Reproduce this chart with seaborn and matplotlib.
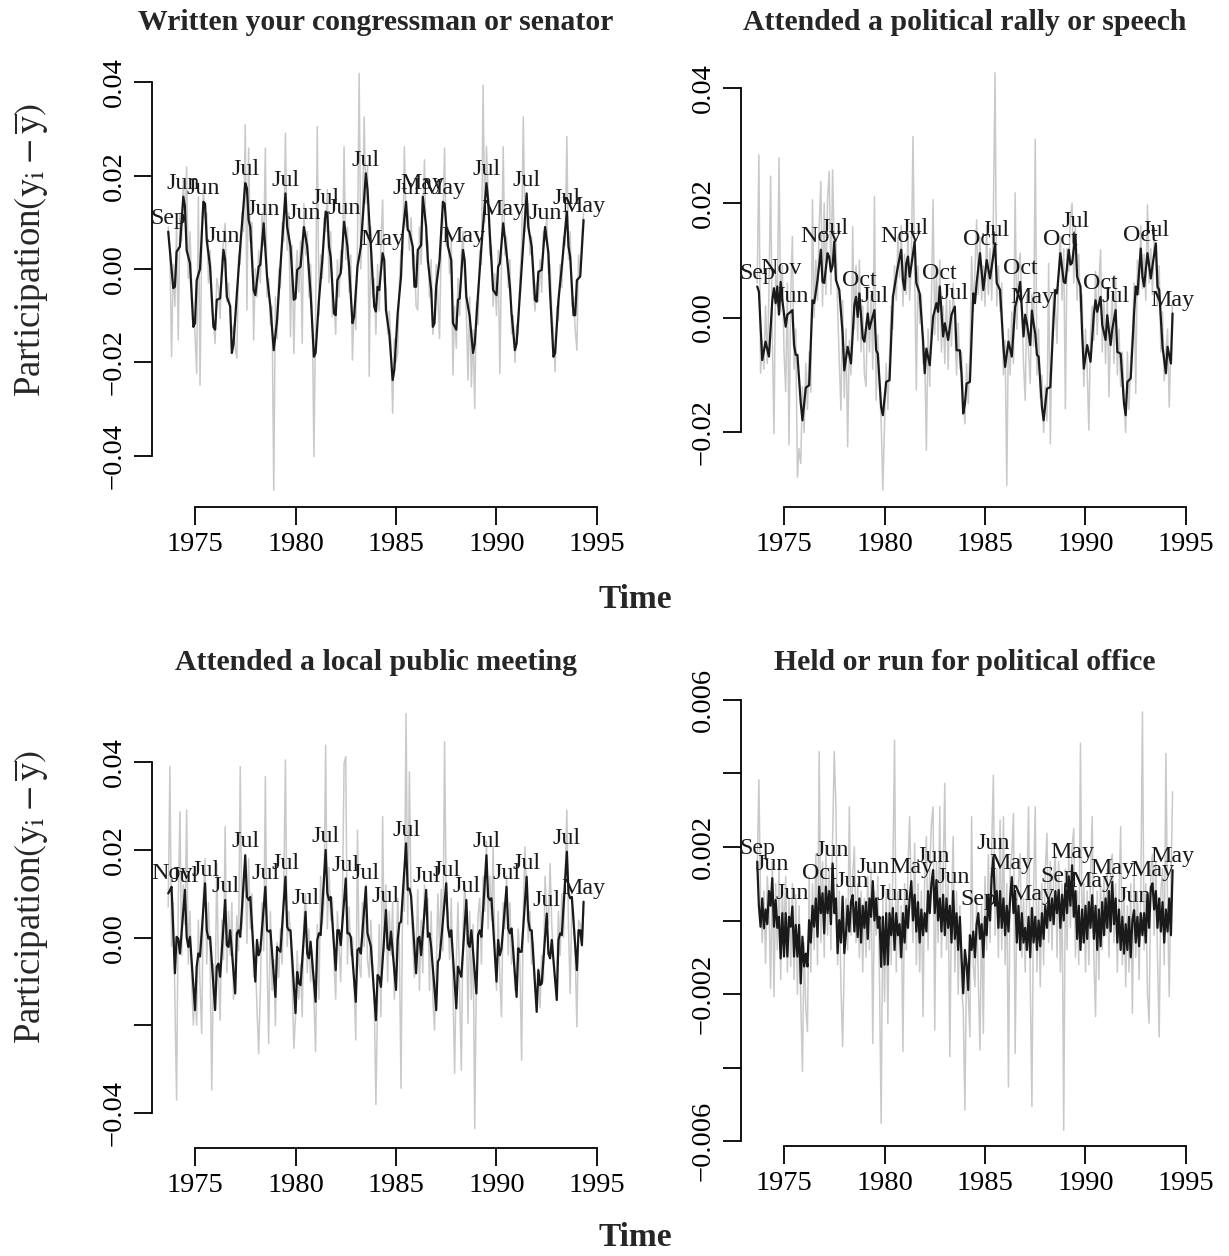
import numpy as np
import pandas as pd
import matplotlib
matplotlib.use("Agg")
import matplotlib.pyplot as plt
import seaborn as sns

# ---------------- data ----------------
START_YEAR, START_MONTH = 1973, 9          # first observation: Sep 1973 (monthly series)
MONTHS = ['Jan', 'Feb', 'Mar', 'Apr', 'May', 'Jun', 'Jul', 'Aug', 'Sep', 'Oct', 'Nov', 'Dec']
LABEL_YEARS = list(range(1973, 1995))
X_TICKS = [1975, 1980, 1985, 1990, 1995]

TITLES = ["Written your congressman or senator", "Attended a political rally or speech",
          "Attended a local public meeting", "Held or run for political office"]

# values in thousandths (panels 1-3) / ten-thousandths (panel 4)
SCALES = [1e-3, 1e-3, 1e-3, 1e-4]

# raw monthly series (grey), month 0 = Sep 1973
TL_GRAY = [9, 4, -18.8, 1, -8, 9, -15.2, 12, 6, 19, 10, 21.9,
           -2, 8, -4, -9, -14, -22.4, 15.5, -24.9, 6, 17, 11, 12,
           -3, 4, -9, -11, -16, -2, -4, -10.6, 2, 6, 9.8, -7,
           -3, -10, -14, -12, -17, -19.1, 3, 1, 12, 8, 30.9, -8.8,
           25.9, 6, 10, -15.2, 0, -6, 4, -3, 12, 5, 25.9, -6,
           -2, -12, -8, -47.4, -6, -15, 0, -4, 10, 6, 29.1, 4,
           12, -14.5, 5, -18.1, -2, 4, -5, 6, -15.9, 14, 3, 8,
           -6, 1, -9, -40.2, -10, 30.5, -10, 3, -2, 11, 8, 17,
           -3, 8, -10.2, -7, -14, 2, -6, 4, 0, 26.2, 2, 9,
           -5, 3, -19.5, -8, -13, 5, 41.9, 0, 12, 32.6, 14, 22,
           -23, 9, -6, -2, -14, 1, -9, 5, 14.8, -3, -4, -14,
           -9, -16, -30.9, -15, -20, -18, -3, 4, 3, 26.2, 9, 12,
           4, 11, 0, 3, -8, -8.8, 9, 1, 11, 23.4, 5, 6,
           -6, 2, -14, -9.5, 1, -6, -14.9, 6, 10, 25.9, 5, 9,
           -1, 6, -22.7, -8, -17, -2, -10, 3, 8, -2, -9, -23.8,
           -6, -25.2, -13, -29.9, -7, -12, 4, 1, 39.4, 10, 26.2, 17,
           3, 5, -8, -1, -10, 4, -22.4, 2, 26.2, 3, 7, -4,
           2, -13.8, -10, -20, -12, -14, -2, 5, 32.6, 8, 12, 14,
           3, 7, -5, -9, -3, -7, 2, -5, 8, 6, 11, -1,
           1, -9, -13.8, -22, -8, -11, 1, -4, 7, 5, 28.4, 2,
           8, -8, -6, -13, -17.4, 3, -1, 7, 12]

TR_GRAY = [6, 28.3, -9.7, -4, -9, 2, -8, 4, 24.6, -3, -20.2, 8,
           2, 27.8, 1, 9, -6, -12.9, 6, -22.2, 4, 14.1, -9, -2,
           -27.8, -22.8, -25.4, -12, -20, -8, -16, -6, -13, 20.5, 0, 10,
           3, 16, 23.7, 2, 19.9, 4, 20.8, 25.4, 4, 25.7, 12, 14,
           2, -7.7, -16.1, 3, -14, -2, -22.5, -4, -10, 15.8, -2, 9,
           -4, 10, -6, 2, -10, -12, 5, -6, 4, -9, 21.1, -14.4,
           -3, -12, -18, -30, -19, -8, -16, -7, 2, -2, 9, 3,
           14, 7, 16, 2, 11, 4, 15, 3, 9, 31.5, 8, -12.6,
           9, -1, 4, -8, -6, -23.1, -2, -12, 3, 20.5, -3, 8,
           -4, 10, -6, 2, -8, 4, -9, 3, -5, 6, -2, -10,
           -1, -9, -6, -14, -18.5, -8, -15, -6, 10.6, 1, 8, 17,
           4, 14, 3, 9, 2, 16, 4, 12, 3, 18, 42.6, 2,
           9, 1, 6, -10, -4, -29.2, -2, -10, 1, -8, 21.7, -2,
           8, 11.2, 2, -8, -14.4, 4, -6, -11.5, 4, -5, 31, -10,
           -2, -14, -10, -20, -12, -18, 9.4, -22, -3, 5, 2, -4.5,
           9, 14, 3, 12, -15.9, 12, 8, 17.6, 19.9, 6, 16, 3,
           11, 1, 4, -12, -2, -9, -19.6, -3, 2, -4, 8, -3,
           6, 11.8, -6, 3, -8, 5, -13.8, -2, 4, -8, 7, -10,
           -2, -12, -6, -14, -20, -6, -16, -7, -3, 6, -13.2, 10,
           4, 16, 5, 11, 3, 19.6, 6, 12, 4, 14, 10, 2,
           9, -6, 1, -11, -6, -2, -15.6, -5, 3]

BL_GRAY = [7, 39, -2, 8, -14, -37, 8, 28.7, -4, 12, 3, 29.1,
           -6, 6, -10, -19.9, -12, -19.9, 4, -11, -21.8, 10, 18, -6,
           8, -4, -34.7, -6, -14, 16.9, -8, -18.8, 4, -5, 25.3, -8,
           6, -4, 8, -14, -6, 5, -3, 39, 2, 10, 16, -1.3,
           18, 2, 10, -9, -4, -16, -26.4, -12, 8, -3, 36.7, -5,
           -24.1, 6, -12, -5, -20, -1, -9, 2, -6, 12, 40.5, -2,
           6, 1, -10, -25.2, -18, -3, -14, -6, -18, 4, 10, -8,
           2, -10, -3, -14, -26, 3, -14, 14, 3, 8, 43.9, 2,
           16, 4, 9, -6, -14, 6, -2, -10, 8, 39.7, 41.3, -6,
           7, -4, 0, -12, -23.3, 24.5, -6, -9, 8, -2, 12, -5,
           -9, 4, -6, -14, -38, -14, 3, -18, 27.6, -3, 12, -10,
           6, -4, 8, -14, -6, 9, -2, -34.3, 12, 6, 51.1, 3,
           37.8, 8, -1, -9, -3, 11, -12, 4, -8, 12, 5, 9,
           -12, 6, -14, -21, -8, 10, -2, 11, -3, 44.7, 8, 6,
           -5, 9, -12, -30.9, -6, 8, -12, -30.2, 2, 12, 6, -19.5,
           6, -14, 3, -43.5, -8, 5, 9, -6, 14, 6, 22, 2,
           14, 4, 20.7, -2, -12, 6, -9, -18, 8, 2, 14, -4,
           8, -6, -2, -12, -8, 2, -6, -27.9, 6, 20.7, 10, -1,
           6, -6, -1, -12, -14, -7, -16, -4, -10, 14, 6, 3,
           16.9, 3, -5, -10, -8, 6, -4, 10, 0, 14, 29.1, 2,
           -12.7, 8, 6, -4, -20.3, 4, 3, -2, 6]

BR_GRAY = [14, 38.2, 5, -6, 8, -11.6, 12, 4, -18.4, 16, -20.7, 10,
           -8, 14, -16, 8, -4, 12, -14, 6, -12.5, 10, -16, 7,
           -20, 4, -22, -41, -6, -24, -30.2, 12, -14, 10, -8, 18,
           -12, 45.9, -6, 16, -10, 20, -4, 14, -8, 22, 45.9, 30.9,
           -12, 8, -18, -34.3, -10, 6, -8, 30.9, -4, 12, 20, -6,
           10, -10, 8, -14, 6, -10, 12, -8, 14, -33.4, 8, -4,
           12, -16, -55.1, 6, -22, 8, -28, 10, -12, 14, 49, -14,
           8, -10, 4, -35.6, 10, -8, 14, 28.2, 6, -6, 21, -12,
           10, -14, 8, -26.1, 12, 22.8, -8, 14, 26.4, 30.9, -29.8, 16,
           -6, 30.9, -10, 12, 37.3, -8, 10, -37, 4, 22.8, -14, 8,
           -20, 4, -18, -24, -51.5, -10, -20, -31.6, 28.2, -12, -18, 6,
           -16, -35.2, 4, -30.7, 12, -8, 18, -6, 20, 39.5, -4, 14,
           -10, 27.3, -8, 28.2, -12, 10, -45.2, 14, 18, 29.1, -36.1, 4,
           10, 18.2, -10, 6, -14, 8, 30.9, -16, -50.6, 8, 30.9, -14,
           6, -18, 10, -12, 14, 23.7, -6, 16, -8, 12, 18, -10,
           16, -14, 10, -57, 14, -8, 18, -2, 20, 25, -10, 8,
           -12, 48.2, -6, 10, -14, 8, -12, 12, 28.2, -10, -26.1, 8,
           -16, 10, -8, 12, -4, 14, -10, 16, 18, -6, 10, -14,
           6, 25.5, -12, 8, -18, 4, -14, 10, -25.2, 12, -10, 8,
           -16, 6, 56.7, -8, 10, -20, -27.9, 14, 18, -4, 16, -10,
           -31.6, 8, 14, -12, 45.4, 4, -20.7, 10, 35]

# smoothed series (black): (month, value) vertices
TL_BLACK = [(0, 8.0), (3, -4.1), (4, -3.8), (5, 3.7), (7, 4.8), (9, 15.5), (10, 13.4), (11, 4.0),
            (13, 1.2), (15, -12.4), (16, -11.6), (17, -2.4), (19, 0.0), (21, 14.4), (22, 14.0),
            (23, 6.2), (25, 0.5), (27, -12.4), (28, -13.0), (29, -6.6), (31, -6.3), (33, 4.1),
            (34, 1.9), (35, -5.9), (37, -8.0), (38, -18.0), (39, -16.0), (41, -5.2), (43, 4.8),
            (46, 18.4), (47, 17.3), (48, 10.5), (49, 9.0), (51, -4.5), (52, -5.6), (54, 0.5),
            (55, 0.9), (57, 9.8), (59, -1.6), (61, -8.0), (63, -17.4), (65, -10.9), (67, 0.5),
            (70, 16.2), (71, 9.0), (73, 4.8), (75, -6.6), (76, -6.3), (77, -0.2), (79, 0.5),
            (81, 9.0), (83, 4.8), (85, -5.2), (87, -18.8), (88, -18.0), (90, -6.6), (92, 1.9),
            (94, 12.3), (95, 12.0), (96, 4.8), (97, 2.6), (99, -9.5), (100, -9.9), (101, -2.4),
            (103, -0.9), (105, 10.1), (107, 4.8), (108, 0.5), (110, -11.6), (111, -10.2),
            (113, 0.5), (115, 4.8), (118, 20.5), (119, 17.0), (120, 10.5), (121, 4.8),
            (123, -8.1), (124, -9.1), (125, -3.8), (126, -4.5), (128, 3.4), (129, 1.9),
            (130, -8.8), (132, -13.8), (134, -23.8), (135, -21.6), (137, -9.5), (139, -1.6),
            (140, 7.6), (142, 14.4), (143, 8.4), (144, 8.0), (146, 4.8), (147, -3.8), (148, -3.8),
            (149, 4.1), (151, 5.1), (152, 15.5), (154, 9.0), (155, 1.9), (157, -4.5), (158, -12.4),
            (159, -11.6), (160, -3.8), (162, 1.9), (164, 14.4), (165, 14.0), (167, 4.8), (169, 1.9),
            (170, -11.6), (172, -13.0), (173, -6.6), (174, -6.3), (176, 4.1), (177, 1.9),
            (178, -5.9), (180, -10.2), (182, -18.0), (183, -16.0), (185, -5.2), (187, 4.8),
            (190, 18.4), (191, 14.8), (192, 7.6), (194, -4.5), (196, -5.6), (197, 0.5), (198, 1.2),
            (200, 9.8), (202, 3.4), (204, -3.8), (205, -9.5), (207, -17.4), (208, -16.0),
            (210, -5.2), (211, 0.5), (214, 16.2), (215, 9.0), (217, 4.8), (219, -6.6), (220, -7.0),
            (221, -0.6), (223, -0.2), (225, 9.0), (227, 3.4), (228, -5.2), (230, -18.8),
            (231, -18.0), (233, -6.6), (235, 0.5), (238, 12.3), (239, 4.8), (240, 2.6),
            (242, -9.9), (243, -9.9), (244, -2.4), (246, -1.6), (248, 10.5)]

TR_BLACK = [(0, 5.4), (1, 4.5), (3, -7.4), (5, -4.2), (7, -6.8), (9, 3.0), (10, 5.1), (11, 2.5),
            (12, 5.4), (13, 0.5), (14, 6.2), (15, 3.0), (17, -1.6), (18, 0.5), (20, 1.0), (21, 1.3),
            (22, -4.8), (23, -6.5), (24, -6.5), (26, -14.9), (27, -17.9), (29, -12.2), (31, -11.8),
            (33, 3.0), (34, 2.5), (36, 6.5), (38, 11.8), (39, 6.2), (40, 6.0), (42, 11.2),
            (43, 10.5), (44, 8.0), (45, 9.0), (46, 13.2), (47, 6.5), (49, 4.8), (51, -2.8),
            (52, -9.2), (54, -5.1), (56, -8.0), (58, 2.2), (59, 3.6), (60, 0.1), (61, 4.2),
            (63, -3.6), (64, -4.2), (66, 0.7), (67, -2.0), (68, -0.8), (70, 1.3), (71, -5.7),
            (72, -6.3), (74, -15.6), (75, -17.0), (77, -11.2), (79, -10.9), (81, 3.6), (82, 5.4),
            (84, 8.9), (86, 11.8), (87, 6.5), (88, 4.8), (89, 9.4), (90, 10.6), (91, 7.1),
            (92, 9.0), (94, 13.2), (95, 6.0), (97, 4.2), (99, -3.9), (100, -9.7), (101, -5.4),
            (103, -8.3), (105, 0.1), (107, 2.5), (108, 1.0), (109, 5.4), (111, -3.3), (112, -1.0),
            (114, -3.9), (116, 0.5), (118, 1.9), (119, -5.7), (121, -5.7), (122, -10.0),
            (123, -16.7), (124, -15.0), (125, -11.5), (127, -11.2), (129, 4.2), (130, 2.5),
            (131, 6.0), (133, 11.2), (135, 4.8), (137, 10.0), (139, 6.8), (142, 12.9), (143, 6.0),
            (145, 4.8), (147, -5.1), (148, -8.6), (150, -4.2), (152, -6.8), (154, 1.9), (155, 3.0),
            (157, 6.2), (159, -3.3), (160, 0.5), (161, -1.0), (163, -4.8), (164, 1.2), (165, -1.0),
            (166, -2.8), (167, -6.5), (168, -6.8), (170, -15.6), (171, -17.9), (173, -12.4),
            (175, -12.1), (177, 0.1), (178, 4.8), (179, 4.2), (181, 11.2), (183, 6.2), (184, 6.0),
            (186, 11.8), (187, 9.2), (188, 9.5), (190, 14.4), (191, 7.1), (193, 5.4), (194, -2.8),
            (195, -8.9), (197, -4.8), (199, -7.7), (201, 0.7), (202, 3.0), (203, 1.0), (205, 3.6),
            (206, -1.3), (208, -3.9), (209, 0.4), (211, -4.8), (212, -2.0), (214, 1.3),
            (215, -6.0), (217, -6.3), (219, -15.0), (220, -17.0), (221, -11.2), (223, -10.6),
            (225, 0.7), (226, 5.4), (227, 4.0), (229, 12.0), (230, 7.1), (231, 5.4), (233, 11.2),
            (235, 6.8), (236, 9.0), (238, 12.9), (239, 5.4), (240, 4.8), (242, -5.1), (244, -9.7),
            (245, -5.1), (247, -8.0), (248, 0.7)]

BL_BLACK = [(0, 10.1), (1, 10.8), (2, 11.6), (4, -8.1), (5, 0.2), (6, -0.2), (7, -3.6), (10, 10.9),
            (11, 0.2), (12, -2.1), (13, 0.2), (16, -16.5), (17, -6.6), (18, -3.6), (19, -4.3), (22, 12.4),
            (23, 1.7), (24, -0.2), (25, 0.2), (28, -16.5), (29, -6.6), (30, -5.9), (31, -8.9), (34, 8.6),
            (35, -1.7), (36, -2.1), (37, 1.7), (40, -12.7), (41, 1.0), (42, 1.7), (43, 0.2), (46, 18.8),
            (47, 9.3), (48, 8.6), (49, 9.3), (52, -10.0), (53, -0.5), (54, -4.0), (55, -2.8), (58, 11.6),
            (59, 1.7), (60, 1.4), (61, 1.7), (64, -13.5), (65, -2.1), (66, -2.8), (67, -3.2), (70, 13.9),
            (71, 2.5), (72, 1.7), (73, 1.7), (76, -17.2), (77, -7.8), (78, -10.4), (79, -10.8), (82, 5.9),
            (83, -3.6), (84, -4.7), (85, -0.9), (88, -14.6), (89, -0.5), (90, 1.0), (91, 0.6), (94, 20.0),
            (95, 10.1), (96, 8.6), (97, 9.3), (100, -7.4), (101, 1.7), (102, 1.7), (103, -1.7), (106, 13.5),
            (107, 1.0), (108, 1.0), (109, 0.2), (112, -14.6), (113, -2.8), (114, -2.4), (115, -3.6), (118, 11.6),
            (119, 1.0), (120, -0.5), (121, -2.0), (124, -18.8), (125, -8.5), (126, -9.0), (127, -11.2), (130, 6.3),
            (131, -2.4), (132, -2.8), (133, 1.4), (136, -11.9), (137, -0.5), (138, 3.3), (139, 3.6), (142, 21.5),
            (143, 10.9), (144, 11.2), (145, 9.5), (148, -8.1), (149, -0.2), (150, 0.2), (151, -4.0), (154, 10.9),
            (155, 0.2), (156, 1.0), (157, -2.1), (160, -16.5), (161, -5.5), (162, -4.7), (163, -0.5), (166, 12.4),
            (167, 2.5), (168, 0.2), (169, 1.7), (172, -16.1), (173, -6.6), (174, -7.8), (175, -8.9), (178, 8.6),
            (179, -1.3), (180, -2.1), (181, 1.7), (184, -12.7), (185, 0.6), (186, 1.7), (187, 0.2), (190, 18.8),
            (191, 9.3), (192, 8.6), (193, 9.0), (196, -10.0), (197, -0.5), (198, -4.0), (199, -2.4), (202, 11.6),
            (203, 2.1), (204, 1.0), (205, 2.1), (208, -13.5), (209, -2.4), (210, -3.2), (211, -3.2), (214, 13.9),
            (215, 4.0), (216, 1.7), (217, 1.7), (220, -16.9), (221, -7.4), (222, -10.8), (223, -10.5), (226, 5.5),
            (227, -3.6), (228, -4.7), (229, -0.5), (232, -14.2), (233, -0.5), (234, 1.0), (235, 0.6), (238, 19.6),
            (239, 10.1), (240, 9.0), (241, 9.3), (244, -7.4), (245, 1.7), (246, 1.7), (247, -1.7), (248, 8.2)]

# monthly smoothed values for the last panel (month 0 = Sep 1973)
BR_BLACK_MONTHLY = [16, 4, -1.7, 6, -2.1, 3, -1, 8, 4, 11.5, -1.7, 5.6,
                    -2, 1, -10.3, 2, -9.8, 2, -9.8, 1, -1.7, 3.8, -9.8, -1.2,
                    -9.8, -1.2, -17.1, -4.4, -12.5, -9, -12.5, 0.1, -6, 4, -1.7, 6,
                    -4.4, 9.2, 2, 7.4, -3.5, 9.2, 2, 8, -1, 15.5, 2, 6,
                    -8.9, 0.1, -6, 6.5, -8.9, -3.5, 4, -3, 5, 6.9, -3, 5,
                    -4.5, 6, -6, 4, -2, 5, -5, 6, 1, 10.7, 0, 6,
                    -2, 1, -12.6, 1, -12, 2, -12, 2, -4, 3.4, -8, 2,
                    -4, -1, -10, 2, -6, 4, -2, 6, 10.7, 0, 7, -3,
                    5, -6, 3, -4, 2, -3, 8, 2, 10, 13.7, 2, 11,
                    0, 6, -3, 7, -4, 6, -2, 4, -6, 8, -5, 2,
                    -8, 1, -10, -19.8, -8, -12, -18.9, -4, -8, -3, -10, -1,
                    2, -5, -1, -10, 1, -4, 7, 0, 12, 17.2, 4, 8,
                    -2, 8, -2, 6, -4, 4, -3, 6, 11.8, 2, 8, -6,
                    4, -8, 2, -6, -2, -8, 1, -10, 3.4, -6, 1, -8,
                    0, -7, 2, -5, 4, -2, 6, 0, 6, -1, 8, 2,
                    8.3, -2, 7, 0, 10, 2, 12, 4, 15, 1, 8, -5,
                    4, -8, 3, -6, 4, -5, 5, -2, 6.9, -5, 4, -8,
                    3, -7, 5, -4, 6, -2, 8, -3, 10.5, -1, 6, -6,
                    3, -8, 1, -9, -1, -8, 1, -10, 0, 2.8, -6, 1,
                    -7, 2, -4, 2, -6, 7, -2, 9, 10.1, 3, 8, -2,
                    6, -3, 5, -6, 3, -3, 6, -4, 13.7]
BR_BLACK = list(enumerate(BR_BLACK_MONTHLY))

# month of the yearly maximum, one label per calendar year 1973..1994
TL_LABELS = ['Sep', 'Jun', 'Jun', 'Jun', 'Jul', 'Jun', 'Jul', 'Jun', 'Jul', 'Jun', 'Jul',
             'May', 'Jul', 'May', 'May', 'May', 'Jul', 'May', 'Jul', 'Jun', 'Jul', 'May']
TR_LABELS = ['Sep', 'Nov', 'Jun', 'Nov', 'Jul', 'Oct', 'Jul', 'Nov', 'Jul', 'Oct', 'Jul',
             'Oct', 'Jul', 'Oct', 'May', 'Oct', 'Jul', 'Oct', 'Jul', 'Oct', 'Jul', 'May']
BL_LABELS = ['Nov', 'Jul', 'Jul', 'Jul', 'Jul', 'Jul', 'Jul', 'Jul', 'Jul', 'Jul', 'Jul',
             'Jul', 'Jul', 'Jul', 'Jul', 'Jul', 'Jul', 'Jul', 'Jul', 'Jul', 'Jul', 'May']
BR_LABELS = ['Sep', 'Jun', 'Jun', 'Oct', 'Jun', 'Jun', 'Jun', 'Jun', 'May', 'Jun', 'Jun',
             'Sep', 'Jun', 'May', 'May', 'Sep', 'May', 'May', 'May', 'Jun', 'May', 'May']

Y_TICKS = [[-0.04, -0.02, 0.0, 0.02, 0.04],
           [-0.02, 0.0, 0.02, 0.04],
           [-0.04, -0.02, 0.0, 0.02, 0.04],
           [-0.006, -0.004, -0.002, 0.0, 0.002, 0.004, 0.006]]
Y_TICKLABELS = [["\u22120.04", "\u22120.02", "0.00", "0.02", "0.04"],
                ["\u22120.02", "0.00", "0.02", "0.04"],
                ["\u22120.04", "", "0.00", "0.02", "0.04"],
                ["\u22120.006", "", "\u22120.002", "", "0.002", "", "0.006"]]

# ---------------- layout / style ----------------
W, H = 1229, 1256
RECTS = [(152, 50, 600, 507), (741, 50, 1189, 507), (152, 690, 600, 1148), (741, 690, 1189, 1146)]
YLIMS = [(-0.0510, 0.04693), (-0.03298, 0.04656), (-0.04793, 0.05646), (-0.006128, 0.006264)]
XLIM = (1972.86, 1995.15)
TITLE_Y = [22, 22, 662, 662]

sns.set_theme(style="ticks")
plt.rcParams['font.family'] = ['Liberation Serif', 'DejaVu Serif']
plt.rcParams['mathtext.fontset'] = 'stix'

GRAY_C = '#c9c9c9'
BLACK_C = '#1a1a1a'


def month_to_time(m):
    return START_YEAR + (START_MONTH - 1 + np.asarray(m, dtype=float)) / 12.0


fig = plt.figure(figsize=(W / 100, H / 100), dpi=100)

grays = [TL_GRAY, TR_GRAY, BL_GRAY, BR_GRAY]
blacks = [TL_BLACK, TR_BLACK, BL_BLACK, BR_BLACK]
labels = [TL_LABELS, TR_LABELS, BL_LABELS, BR_LABELS]

for i in range(4):
    l, t, r, b = RECTS[i]
    ax = fig.add_axes([l / W, 1 - b / H, (r - l) / W, (b - t) / H])
    sc = SCALES[i]

    g = np.asarray(grays[i], dtype=float)
    df_g = pd.DataFrame({'time': month_to_time(np.arange(len(g))), 'value': g * sc})
    sns.lineplot(data=df_g, x='time', y='value', ax=ax, color=GRAY_C, lw=1.1,
                 estimator=None, sort=False)

    bm = np.array([p[0] for p in blacks[i]], dtype=float)
    bv = np.array([p[1] for p in blacks[i]], dtype=float)
    df_b = pd.DataFrame({'time': month_to_time(bm), 'value': bv * sc})
    sns.lineplot(data=df_b, x='time', y='value', ax=ax, color=BLACK_C, lw=1.6,
                 estimator=None, sort=False)

    for year, mon in zip(LABEL_YEARS, labels[i]):
        m = (year - START_YEAR) * 12 + MONTHS.index(mon) - (START_MONTH - 1)
        v = np.interp(m, bm, bv) * sc
        ax.annotate(mon, (float(month_to_time(m)), v), xytext=(0, 2), textcoords='offset points',
                    ha='center', va='bottom', fontsize=17.3, color=BLACK_C)

    ax.set_xlim(*XLIM)
    ax.set_ylim(*YLIMS[i])
    ax.set_xlabel('')
    ax.set_ylabel('')
    ax.set_xticks(X_TICKS)
    ax.set_xticklabels([str(x) for x in X_TICKS])
    ax.set_yticks(Y_TICKS[i])
    ax.set_yticklabels(Y_TICKLABELS[i])
    for s in ['top', 'right']:
        ax.spines[s].set_visible(False)
    for s in ['left', 'bottom']:
        ax.spines[s].set_linewidth(1.3)
        ax.spines[s].set_color('black')
    ax.spines['left'].set_bounds(Y_TICKS[i][0], Y_TICKS[i][-1])
    ax.spines['bottom'].set_bounds(X_TICKS[0], X_TICKS[-1])
    ax.tick_params(axis='both', which='major', direction='out', length=13, width=1.3,
                   labelsize=20.5, colors='black', bottom=True, left=True, pad=5)
    ax.tick_params(axis='y', labelrotation=90)
    for lab in ax.get_yticklabels():
        lab.set_verticalalignment('center')
    ax.set_facecolor('white')

    fig.text(((l + r) / 2) / W, 1 - TITLE_Y[i] / H, TITLES[i], ha='center', va='center',
             fontsize=21.4, fontweight='bold')

for yy in [600, 1238]:
    fig.text(635 / W, 1 - yy / H, 'Time', ha='center', va='center', fontsize=24, fontweight='bold')
for yy in [250, 897]:
    fig.text(32 / W, 1 - yy / H,
             r'Participation$\left(\mathrm{y}_{\mathrm{i}}-\overline{\mathrm{y}}\right)$',
             ha='center', va='center', rotation=90, fontsize=26.5)

fig.savefig('out.png', dpi=100, facecolor='white')
